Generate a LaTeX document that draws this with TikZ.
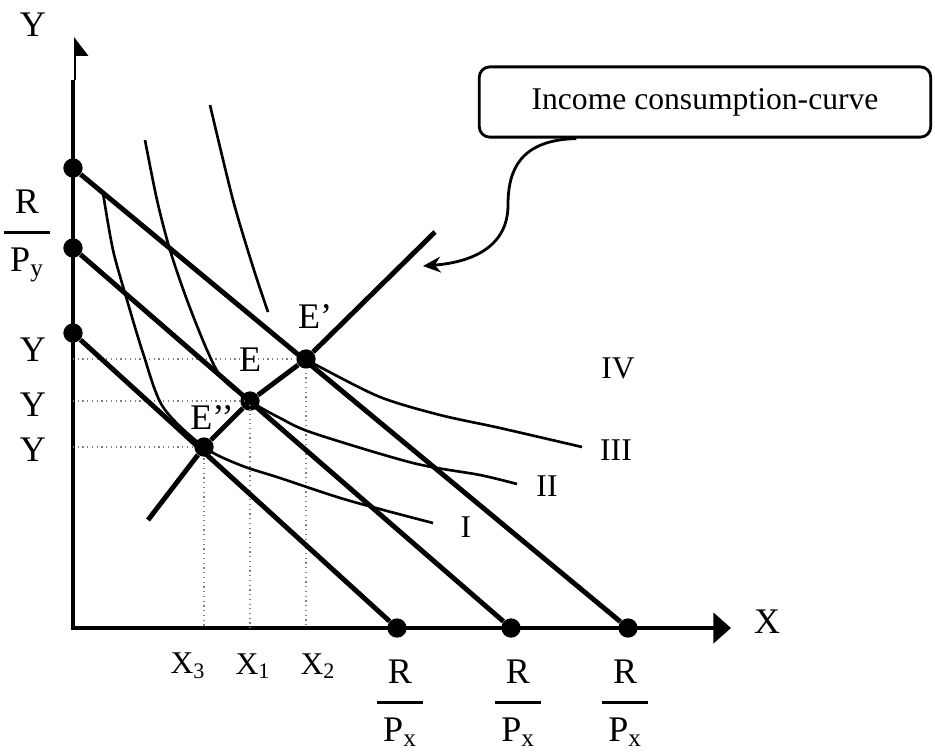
\documentclass[tikz,border=0pt]{standalone}
\usepackage{amsmath}
\usepackage{fontspec}
\setmainfont{Liberation Serif}
\usetikzlibrary{arrows.meta, positioning}
\newcommand{\ratio}[1]{$\genfrac{}{}{2pt}{0}{\mbox{R\rule[-4pt]{0pt}{4pt}}}{\mbox{\,\rule{0pt}{15pt}P\textsubscript{#1}\,}}$}

\begin{document}
\begin{tikzpicture}[x=0.02cm, y=-0.02cm, >=Stealth, font=\fontsize{18}{21}\selectfont,
    axis/.style={line width=2.6pt},
    budget/.style={line width=2.8pt},
    indiff/.style={line width=1.5pt},
    guide/.style={gray, dotted, line width=0.7pt},
    dot/.style={circle, fill=black, inner sep=0pt, minimum size=11pt},
    big/.style={font=\fontsize{20.5}{22}\selectfont},
    callout/.style={draw, rounded corners=6pt, line width=1.6pt, minimum width=257pt, minimum height=40pt}]
  \useasboundingbox (0,0) rectangle (935,751);

  % Axes
  \coordinate (o) at (73,628);
  \coordinate (ytop) at (73,80);
  \coordinate (yflag) at (75,37);
  \coordinate (xend) at (731,628);
  \draw[axis, -{Triangle[length=10pt,width=17pt]}] (ytop) -- (o) -- (xend);
  \draw[line width=1.1pt, -{Triangle[harpoon,swap,length=10pt,width=15pt]}] (ytop -| yflag) -- (yflag);
  \node[big] (ylab) at (33,25) {Y};
  \node[big] (xlab) at (767,622) {X};

  % Intercepts and equilibria
  \node[dot] (yA) at (73,168) {};
  \node[dot] (yB) at (73,248) {};
  \node[dot] (yC) at (73,333) {};
  \node[dot] (xA) at (397,628) {};
  \node[dot] (xB) at (511,628) {};
  \node[dot] (xC) at (628,628) {};
  \node[dot] (eA) at (204,447) {};
  \node[dot] (eB) at (250,401) {};
  \node[dot] (eC) at (306,359) {};

  % Guides
  \foreach \e in {eA, eB, eC}
    \draw[guide] (o |- \e) -- (\e.center) -- (\e.center |- o);

  % Budget lines
  \draw[budget] (yA) -- (xC);
  \draw[budget] (yB) -- (xB);
  \draw[budget] (yC) -- (xA);

  % Income consumption curve
  \coordinate (iccS) at (148,520);
  \coordinate (iccE) at (435,232);
  \draw[budget] (iccS) -- (eA) -- (eB) -- (eC) -- (iccE);

  % Indifference curves
  \draw[indiff] plot[smooth] coordinates {(103,193) (113,250) (127,300) (143,353) (163,407) (204,447) (240,465) (280,478) (347,500) (433,523)};
  \draw[indiff] plot[smooth] coordinates {(145,140) (157,200) (170,250) (187,300) (207,350) (222,378) (250,401) (280,418) (313,433) (413,463) (480,475) (517,484)};
  \draw[indiff] plot[smooth] coordinates {(210,105) (233,200) (253,267) (268,312)};
  \draw[indiff] plot[smooth] coordinates {(306,359) (320,367) (380,397) (440,415) (500,428) (582,447)};

  % Labels
  \node[big] (lA) at (212,418) {E’’};
  \node[big] (lB) at (250,360) {E};
  \node[big] (lC) at (315,317) {E’};
  \node (cI) at (466,527) {I};
  \node (cII) at (547,486) {II};
  \node (cIII) at (616,450) {III};
  \node (cIV) at (618,368) {IV};
  \node[big] (y1) at (33,350) {Y};
  \node[big] (y2) at (33,405) {Y};
  \node[big] (y3) at (33,450) {Y};
  \node (x3) at (188,666) {X\textsubscript{3}};
  \node (x1) at (253,666) {X\textsubscript{1}};
  \node (x2) at (318,666) {X\textsubscript{2}};
  \node[big] (ry) at (27,236) {\ratio{y}};
  \node[big] (rxA) at (400,703) {\ratio{x}};
  \node[big] (rxB) at (518,703) {\ratio{x}};
  \node[big] (rxC) at (625,703) {\ratio{x}};

  % Callout
  \node[callout] (box) at (705,102) {Income consumption-curve};
  \coordinate (tip) at (423,266);
  \draw[line width=1.6pt, -{Stealth[length=10pt,width=9pt]}] ([xshift=56pt]box.south west) .. controls (520,140) and (508,170) .. (508,205) .. controls (508,245) and (475,262) .. (tip);
\end{tikzpicture}
\end{document}
